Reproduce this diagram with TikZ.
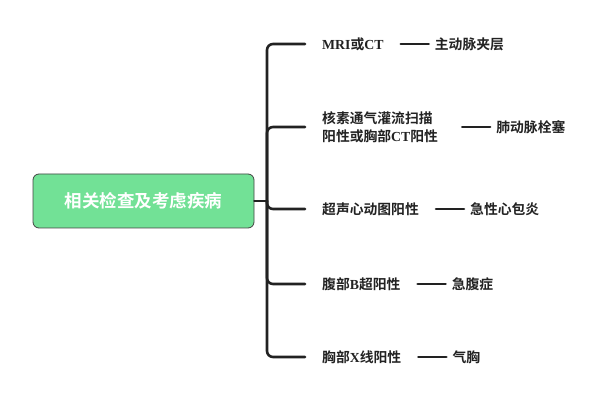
\documentclass[tikz,border=0pt]{standalone}
\usepackage{fontspec}
\usepackage{tikz}
\usetikzlibrary{positioning}
\newfontfamily\cjk{Noto Sans CJK SC}[BoldFont=* Bold]
\newfontfamily\lat{Liberation Serif}
\newcommand{\la}[1]{{\lat\bfseries #1}}
\definecolor{rootgreen}{HTML}{72E196}
\definecolor{ink}{HTML}{222222}

\begin{document}
\begin{tikzpicture}[x=1pt,y=-1pt,line cap=round,line join=round,
    conn/.style={draw=ink,line width=2.6pt,rounded corners=6pt},
    rootbox/.style={draw=ink!85,line width=0.8pt,fill=rootgreen,rounded corners=6pt,
      minimum width=221pt,minimum height=54pt,text=white,font=\cjk\bfseries\fontsize{17.5}{20}\selectfont},
    test/.style={anchor=west,inner xsep=17pt,inner ysep=2pt,text=ink,align=left,
      font=\cjk\bfseries\fontsize{13.8}{18}\selectfont},
    illness/.style={anchor=west,inner xsep=6pt,text=ink,font=\cjk\bfseries\fontsize{13.8}{18}\selectfont}]
      \useasboundingbox (0,0) rectangle (616,406);
      \node[rootbox] (root) at (143.5,201) {相关检查及考虑疾病};
      \coordinate (hub) at (267,201);
      % first level
      \node[test] (t1) at (305,44) {\la{MRI}或\la{CT}};
      \node[test] (t2) at (305,127) {核素通气灌流扫描\\阳性或胸部\la{CT}阳性\hspace*{7pt}};
      \node[test] (t3) at (305,209) {超声心动图阳性};
      \node[test] (t4) at (305,284) {腹部\la{B}超阳性};
      \node[test] (t5) at (305,357) {胸部\la{X}线阳性};
      % second level
      \node[illness,right=28pt of t1] (d1) {主动脉夹层};
      \node[illness,right=28pt of t2] (d2) {肺动脉栓塞};
      \node[illness,right=28pt of t3] (d3) {急性心包炎};
      \node[illness,right=28pt of t4] (d4) {急腹症};
      \node[illness,right=28pt of t5] (d5) {气胸};
      \draw[conn] (root.east) -- (hub);
      \foreach \i in {1,...,5}{
        \draw[conn] (hub) |- (t\i.west);
        \draw[conn] (t\i.east) -- (d\i.west);
      }
    \end{tikzpicture}
\end{document}
